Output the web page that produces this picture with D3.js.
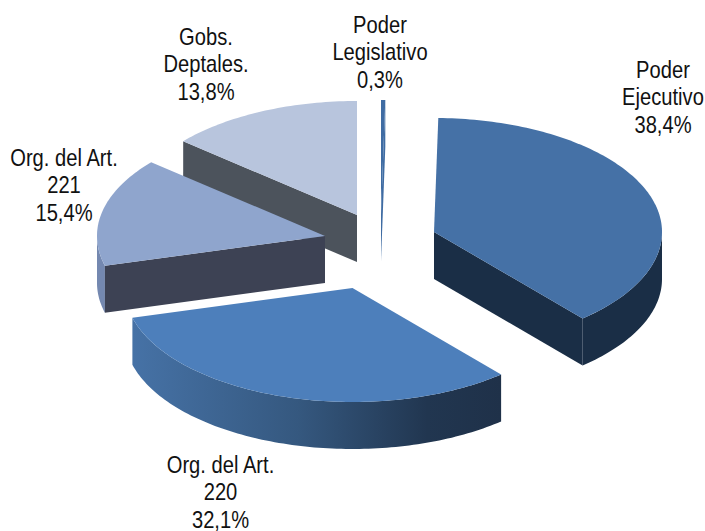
<!DOCTYPE html>
<html><head><meta charset="utf-8">
<style>html,body{margin:0;padding:0;background:#fff}svg{display:block}</style>
<script src="https://cdn.jsdelivr.net/npm/d3@7/dist/d3.min.js"></script>
</head><body><svg id="c" width="705" height="531"></svg>
<script>
const categories = [["Poder","Legislativo"],["Poder","Ejecutivo"],["Org. del Art.","220"],["Org. del Art.","221"],["Gobs.","Deptales."]];
const values = [0.3,38.4,32.1,15.4,13.8];
const topColors = ["#3f6ca3","#4571a6","#4d7fbb","#8fa5cd","#b8c5dd"];
const faceColors = ["#3f6ca3","#1a2e46","#1f3149","#3d4254","#4c535c"];
const rimColors = ["#3f6ca3","#1a2e46","url(#rim220)","#7488b0","#4c535c"];
const apexX = [381,434,352.5,325,357];
const apexY = [214,232,288,236,215];
const labelX = [380,663,220.5,64,206];
const labelY = [33,78,473,166,45];
const drawOrder = [4,0,3,1,2];

const W=705,H=531,rx=228,ry=114,depth=47;
const svg=d3.select("#c");
const sx=d3.scaleLinear().domain([-1,1]).range([-rx,rx]);
const sy=d3.scaleLinear().domain([-1,1]).range([ry,-ry]);
const grad=svg.append("defs").append("linearGradient").attr("id","rim220");
[[0,"#4672a6"],[0.45,"#35587f"],[0.8,"#213650"],[1,"#1f3149"]].forEach(s=>grad.append("stop").attr("offset",s[0]).attr("stop-color",s[1]));

const arcs=d3.pie().sort(null).startAngle(0).endAngle(2*Math.PI)(values);
const px=(i,t)=>apexX[i]+sx(Math.sin(t));
const py=(i,t)=>apexY[i]+sy(Math.cos(t));
const line=d3.line();
const samples=(a,b)=>{const n=Math.max(2,Math.ceil((b-a)/0.02));return d3.range(n+1).map(k=>a+(b-a)*k/n);};

drawOrder.forEach(i=>{
  const a=arcs[i],g=svg.append("g");
  const faces=[];
  if(Math.sin(a.startAngle)<0) faces.push(a.startAngle);
  if(Math.sin(a.endAngle)>1e-6) faces.push(a.endAngle);
  const r0=Math.max(a.startAngle,Math.PI/2), r1=Math.min(a.endAngle,1.5*Math.PI);
  if(r1>r0){
    const ts=samples(r0,r1);
    const up=ts.map(t=>[px(i,t),py(i,t)]);
    const down=ts.slice().reverse().map(t=>[px(i,t),py(i,t)+depth]);
    g.append("path").attr("d",line(up.concat(down))+"Z").attr("fill",rimColors[i]);
  }
  faces.forEach(t=>{
    g.append("path").attr("d",line([[apexX[i],apexY[i]],[px(i,t),py(i,t)],[px(i,t),py(i,t)+depth],[apexX[i],apexY[i]+depth]])+"Z").attr("fill",faceColors[i]);
  });
  const pts=[[apexX[i],apexY[i]]].concat(samples(a.startAngle,a.endAngle).map(t=>[px(i,t),py(i,t)]));
  g.append("path").attr("d",line(pts)+"Z").attr("fill",topColors[i]);
});

const fmt=v=>String(v).replace(".",",")+"%";
categories.forEach((c,i)=>{
  const t=svg.append("text").attr("text-anchor","middle")
    .attr("transform",`translate(${labelX[i]},${labelY[i]}) scale(0.84,1)`)
    .style("font-family","'Liberation Sans',Arial,sans-serif").style("font-size","24px").attr("fill","#111");
  c.concat([fmt(values[i])]).forEach((s,k)=>{
    t.append("tspan").attr("x",0).attr("y",k*27.5).text(s);
  });
});
</script></body></html>
